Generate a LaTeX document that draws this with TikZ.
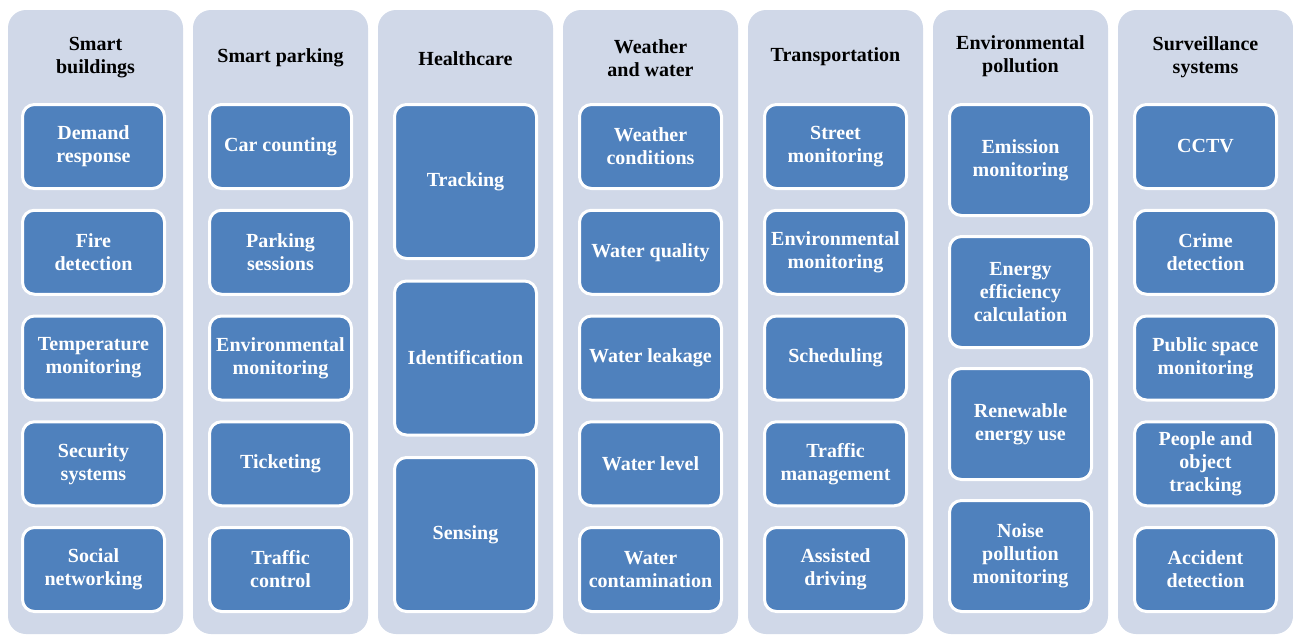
\documentclass[tikz,border=0pt]{standalone}
\usepackage{fontspec}
\setmainfont{Liberation Serif}
\usepackage{xcolor}
\usepackage{tikz}
\usetikzlibrary{positioning}
\definecolor{areafill}{RGB}{208,216,232}
\definecolor{itemblue}{RGB}{79,129,189}
\tikzset{
   city map/.style={
      x=1pt, y=1pt,
      area/.style={fill=areafill, rounded corners=18pt, minimum width=175pt,
         minimum height=624pt, inner sep=0pt, outer sep=0pt},
      title/.style={align=center, text=black,
         font=\fontsize{20}{23}\selectfont\bfseries},
      item/.style={draw=white, line width=3pt, fill=itemblue, rounded corners=12pt,
         minimum width=142pt, minimum height=##1, inner sep=0pt, align=center,
         text=white, font=\fontsize{20}{23}\selectfont\bfseries}
      }
}

\begin{document}
\begin{tikzpicture}[city map]
  \useasboundingbox (0,0) rectangle (1293,-635);
  % columns
  \node[area] (build) at (95.5,-322) {};
  \node[area, right=10pt of build] (park) {};
  \node[area, right=10pt of park] (health) {};
  \node[area, right=10pt of health] (weather) {};
  \node[area, right=10pt of weather] (transp) {};
  \node[area, right=10pt of transp] (pollut) {};
  \node[area, right=10pt of pollut] (surveil) {};
  % titles
  \node[title] (build-t) at ([yshift=-48pt]build.north) {Smart\\buildings};
  \node[title] (park-t) at ([yshift=-48pt]park.north) {Smart parking};
  \node[title] (health-t) at ([yshift=-49pt]health.north) {Healthcare};
  \node[title] (weather-t) at ([yshift=-48pt]weather.north) {Weather\\and water};
  \node[title] (transp-t) at ([yshift=-47pt]transp.north) {Transportation};
  \node[title] (pollut-t) at ([yshift=-46pt]pollut.north) {Environmental\\pollution};
  \node[title] (surveil-t) at ([yshift=-47pt]surveil.north) {Surveillance\\systems};
  % smart buildings
  \node[item=84pt, below=93pt of build.north, xshift=-2pt] (b1) {Demand\\response};
  \node[item=84pt, below=18.75pt of b1] (b2) {Fire\\detection};
  \node[item=84pt, below=18.75pt of b2] (b3) {Temperature\\monitoring};
  \node[item=84pt, below=18.75pt of b3] (b4) {Security\\systems};
  \node[item=84pt, below=18.75pt of b4] (b5) {Social\\networking};
  % smart parking
  \node[item=84pt, below=93pt of park.north] (p1) {Car counting};
  \node[item=84pt, below=18.75pt of p1] (p2) {Parking\\sessions};
  \node[item=84pt, below=18.75pt of p2] (p3) {Environmental\\monitoring};
  \node[item=84pt, below=18.75pt of p3] (p4) {Ticketing};
  \node[item=84pt, below=18.75pt of p4] (p5) {Traffic\\control};
  % healthcare
  \node[item=154pt, below=93pt of health.north] (h1) {Tracking};
  \node[item=154pt, below=19.5pt of h1] (h2) {Identification};
  \node[item=154pt, below=19.5pt of h2] (h3) {Sensing};
  % weather and water
  \node[item=84pt, below=93pt of weather.north] (w1) {Weather\\conditions};
  \node[item=84pt, below=18.75pt of w1] (w2) {Water quality};
  \node[item=84pt, below=18.75pt of w2] (w3) {Water leakage};
  \node[item=84pt, below=18.75pt of w3] (w4) {Water level};
  \node[item=84pt, below=18.75pt of w4] (w5) {Water\\contamination};
  % transportation
  \node[item=84pt, below=93pt of transp.north] (t1) {Street\\monitoring};
  \node[item=84pt, below=18.75pt of t1] (t2) {Environmental\\monitoring};
  \node[item=84pt, below=18.75pt of t2] (t3) {Scheduling};
  \node[item=84pt, below=18.75pt of t3] (t4) {Traffic\\management};
  \node[item=84pt, below=18.75pt of t4] (t5) {Assisted\\driving};
  % environmental pollution
  \node[item=111pt, below=93pt of pollut.north] (e1) {Emission\\monitoring};
  \node[item=111pt, below=18pt of e1] (e2) {Energy\\efficiency\\calculation};
  \node[item=111pt, below=18pt of e2] (e3) {Renewable\\energy use};
  \node[item=111pt, below=18pt of e3] (e4) {Noise\\pollution\\monitoring};
  % surveillance systems
  \node[item=84pt, below=93pt of surveil.north] (s1) {CCTV};
  \node[item=84pt, below=18.75pt of s1] (s2) {Crime\\detection};
  \node[item=84pt, below=18.75pt of s2] (s3) {Public space\\monitoring};
  \node[item=84pt, below=18.75pt of s3] (s4) {People and\\object\\tracking};
  \node[item=84pt, below=18.75pt of s4] (s5) {Accident\\detection};
\end{tikzpicture}
\end{document}
